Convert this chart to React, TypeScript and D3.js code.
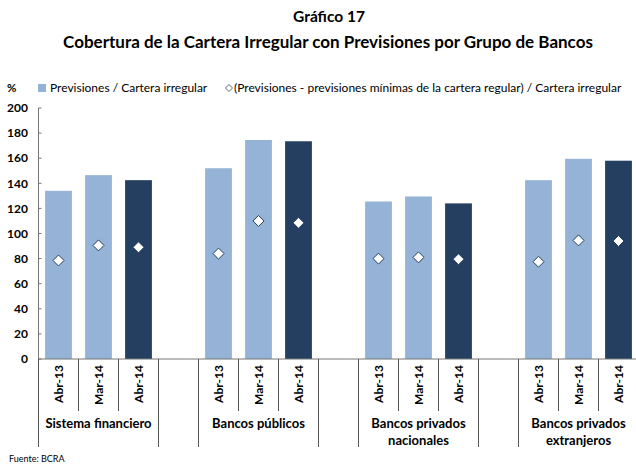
import React from "react";
import * as d3 from "d3";

// Chart data
const groups = [
  ["Sistema financiero"],
  ["Bancos públicos"],
  ["Bancos privados", "nacionales"],
  ["Bancos privados", "extranjeros"],
];
const periods = ["Abr-13", "Mar-14", "Abr-14"];
const coverage = [
  [134, 146.5, 142.5],
  [152, 174.5, 173.5],
  [125.5, 129.5, 124],
  [142.5, 159.5, 158],
];
const netCoverage = [
  [78.5, 90.5, 89],
  [84, 110, 108.5],
  [80, 81, 79.5],
  [77.5, 94.5, 94],
];
const yTicks = [0, 20, 40, 60, 80, 100, 120, 140, 160, 180, 200];

const width = 636;
const height = 466;
const font = "Lato, 'Open Sans', sans-serif";
const light = "#95B3D7";
const dark = "#243F60";

const App = () => {
  const margin = { top: 108, bottom: 359, left: 38.5 };
  const slotsPerGroup = 4;
  const nSlots = groups.length * slotsPerGroup - 1;

  const slots = d3.range(nSlots).map(String);
  const x = d3
    .scaleBand()
    .domain(slots)
    .range([margin.left, margin.left + nSlots * 40])
    .paddingInner(0.33)
    .paddingOuter(0.165);
  const step = x.step();
  const slotStart = (i) => margin.left + i * step;

  const y = d3.scaleLinear().domain([0, 200]).range([margin.bottom, margin.top]);

  const bars = groups.flatMap((g, gi) =>
    periods.map((p, pi) => ({
      key: `${gi}-${pi}`,
      slot: String(gi * slotsPerGroup + pi),
      period: p,
      value: coverage[gi][pi],
      net: netCoverage[gi][pi],
      color: pi === 2 ? dark : light,
    }))
  );

  // vertical separators under the axis
  const seps = d3.range(nSlots + 1).map((i) => {
    const pos = i % slotsPerGroup;
    const long = pos === 0 || pos === 3;
    return { i, long };
  });

  const diamond = (cx, cy, r = 5.5) =>
    `M${cx},${cy - r}L${cx + r},${cy}L${cx},${cy + r}L${cx - r},${cy}Z`;

  return (
    <svg
      width={width}
      height={height}
      style={{ position: "absolute", left: 0, top: 0, fontFamily: font, background: "#fff" }}
    >
      {/* titles */}
      <text x={329} y={22} textAnchor="middle" fontSize={15.5} fontWeight="bold">
        Gráfico 17
      </text>
      <text x={328} y={48} textAnchor="middle" fontSize={17} fontWeight="bold">
        Cobertura de la Cartera Irregular con Previsiones por Grupo de Bancos
      </text>

      {/* legend */}
      <text x={7} y={92} fontSize={11.5} fontWeight="bold">%</text>
      <rect x={38} y={84} width={8} height={8} fill={light} />
      <text x={50} y={92} fontSize={12}>Previsiones / Cartera irregular</text>
      <path d={diamond(229, 88, 3.5)} fill="#fff" stroke={dark} strokeWidth={0.8} />
      <text x={234} y={92} fontSize={12}>
        (Previsiones - previsiones mínimas de la cartera regular) / Cartera irregular
      </text>

      {/* y axis */}
      <line x1={margin.left} x2={margin.left} y1={y(200)} y2={y(0)} stroke="#777" />
      {yTicks.map((t) => (
        <g key={t}>
          <line x1={margin.left} x2={margin.left + 3} y1={y(t)} y2={y(t)} stroke="#777" />
          <text
            x={28}
            y={y(t)}
            dy="0.35em"
            textAnchor="end"
            fontSize={12}
            fontWeight="bold"
          >
            {t}
          </text>
        </g>
      ))}

      {/* bars */}
      {bars.map((b) => (
        <rect
          key={b.key}
          x={x(b.slot)}
          y={y(b.value)}
          width={x.bandwidth()}
          height={y(0) - y(b.value)}
          fill={b.color}
        />
      ))}

      {/* diamonds */}
      {bars.map((b) => (
        <path
          key={"d" + b.key}
          d={diamond(x(b.slot) + x.bandwidth() / 2, y(b.net))}
          fill="#fff"
          stroke={dark}
          strokeWidth={1}
        />
      ))}

      {/* x axis */}
      <line x1={margin.left} x2={width} y1={y(0)} y2={y(0)} stroke="#777" />
      {seps.map((s) => (
        <line
          key={s.i}
          x1={slotStart(s.i)}
          x2={slotStart(s.i)}
          y1={y(0)}
          y2={s.long ? 447 : 411}
          stroke="#555"
          strokeWidth={1}
        />
      ))}
      {bars.map((b) => (
        <text
          key={"l" + b.key}
          transform={`translate(${x(b.slot) + x.bandwidth() / 2},365) rotate(-90)`}
          textAnchor="end"
          dy="0.35em"
          fontSize={12}
          fontWeight="bold"
        >
          {b.period}
        </text>
      ))}
      {groups.map((g, gi) => {
        const cx = slotStart(gi * slotsPerGroup) + 1.5 * step;
        return (
          <text key={gi} textAnchor="middle" fontSize={13} fontWeight="bold">
            {g.map((line, li) => (
              <tspan key={li} x={cx} y={428 + li * 17}>
                {line}
              </tspan>
            ))}
          </text>
        );
      })}

      <text x={9} y={462} fontSize={9}>Fuente: BCRA</text>
    </svg>
  );
};

export default App;
